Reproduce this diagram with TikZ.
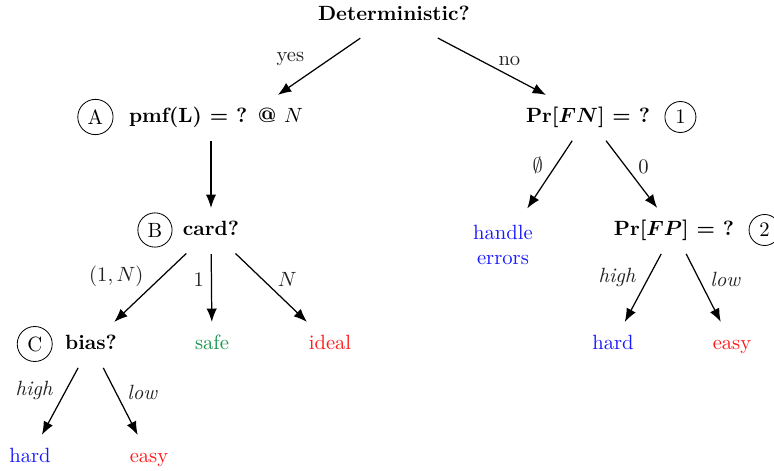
\documentclass[tikz,border=0pt]{standalone}
\usepackage{amsmath}
\usetikzlibrary{positioning,arrows.meta}
\definecolor{cblue}{HTML}{1A1AFF}
\definecolor{cred}{HTML}{FF1A1A}
\definecolor{cgreen}{HTML}{1A9850}
\definecolor{clab}{HTML}{222222}
\tikzset{
  quest/.style={font=\bfseries, minimum height=21pt, text height=7.5pt, text depth=2.5pt},
  leaf/.style={minimum height=21pt, text height=7.5pt, text depth=2.5pt},
  tag/.style={circle, draw, thin, inner sep=2.4pt},
  arr/.style={-{Latex[length=6.5pt,width=5pt]}, line width=0.6pt, shorten <=1pt},
  lab/.style={text=clab, yshift=-3.5pt}
}

\begin{document}
\begin{tikzpicture}[x=0.485pt, y=-0.485pt]
\useasboundingbox (0,0) rectangle (774,471);
% questions
\node[quest] (det) at (394,15) {Deterministic?};
\node[quest] (pmf) at (216,117) {pmf(L) = ? @ $N$};
\node[quest] (fn) at (588,117) {Pr[$\boldsymbol{FN}$] = ?};
\node[quest] (card) at (211,230) {card?};
\node[quest] (fp) at (674,230) {Pr[$\boldsymbol{FP}$] = ?};
\node[quest] (bias) at (91,344) {bias?};
% circled tags
\node[tag, left=4pt of pmf] (ta) {A};
\node[tag, left=1.5pt of card] (tb) {B};
\node[tag, left=2.5pt of bias] (tc) {C};
\node[tag, right=3.5pt of fn] (t1) {1};
\node[tag, right=3.5pt of fp] (t2) {2};
% leaves
\node[align=center, text=cblue, inner ysep=8pt] (err) at (503,245) {handle\\errors};
\node[leaf, text=cgreen] (safe) at (212,344) {safe};
\node[leaf, text=cred] (ideal) at (330,344) {ideal};
\node[leaf, text=cblue] (hardr) at (613,344) {hard};
\node[leaf, text=cred] (easyr) at (732,344) {easy};
\node[leaf, text=cblue] (hardl) at (30,457) {hard};
\node[leaf, text=cred] (easyl) at (149,457) {easy};
% edges
\draw[arr] (det) -- node[lab, above left, xshift=-4pt] {yes} ([xshift=30pt]pmf.north);
\draw[arr] (det) -- node[lab, above right] {no} (fn);
\draw[arr] (pmf.south -| card) -- (card);
\draw[arr] (card) -- node[lab, above left] {$(1,N)$} (bias);
\draw[arr] (card) -- node[lab, above left] {$1$} (safe);
\draw[arr] (card) -- node[lab, above right] {$N$} (ideal);
\draw[arr] (fn) -- node[lab, above left] {$\emptyset$} (err);
\draw[arr] (fn) -- node[lab, above right] {$0$} (fp);
\draw[arr] (fp) -- node[lab, above left] {\textit{high}} (hardr);
\draw[arr] (fp) -- node[lab, above right] {\textit{low}} (easyr);
\draw[arr] (bias) -- node[lab, above left] {\textit{high}} (hardl);
\draw[arr] (bias) -- node[lab, above right] {\textit{low}} (easyl);
\end{tikzpicture}
\end{document}
